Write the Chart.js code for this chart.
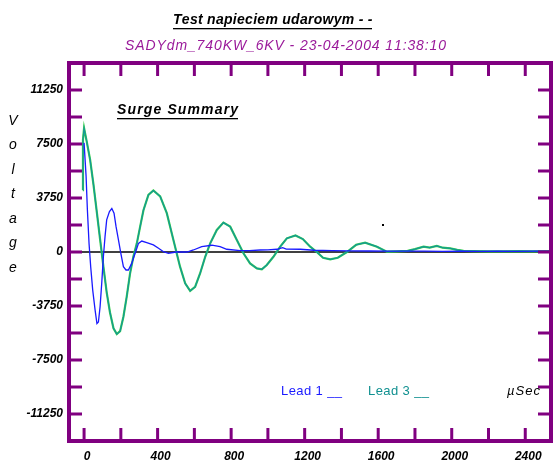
<!DOCTYPE html>
<html>
<head>
<meta charset="utf-8">
<script src="https://cdn.jsdelivr.net/npm/chart.js@4"></script>
<style>
  html, body { margin: 0; padding: 0; background: #fff; }
  #wrap { width: 555px; height: 467px; position: relative; }
</style>
</head>
<body>
<div id="wrap"><canvas id="surge-chart"></canvas></div>
<script>
// surge test — Lead 1 / Lead 3 voltage traces (µs vs V)

const lead1Times = [0, 11, 18, 27, 36, 47, 60, 70, 78, 87, 96, 105, 114, 123, 138, 151, 163, 174, 187, 200, 214, 228, 241, 259, 278, 296, 314, 341, 377, 405, 432, 459, 500, 560, 595, 640, 695, 740, 776, 849, 900, 958, 1000, 1049, 1080, 1100, 1176, 1250, 1350, 1450, 1550, 1650, 1750, 1850, 1950, 2050, 2150, 2250, 2350, 2450, 2540];
const lead1Values = [7580, 5250, 2930, 600, -1020, -2650, -4040, -4970, -4860, -3810, -2180, -330, 1070, 2230, 2810, 3020, 2700, 1760, 840, -90, -1020, -1250, -1250, -790, -90, 600, 760, 650, 490, 260, 20, -90, 0, 0, 140, 380, 470, 380, 190, 90, 100, 140, 150, 190, 300, 200, 190, 120, 90, 80, 70, 60, 60, 60, 40, 60, 40, 60, 50, 60, 50];

const lead3Times = [-7, -6, 0, 14, 33, 51, 69, 87, 105, 123, 141, 160, 178, 196, 214, 232, 250, 268, 287, 305, 323, 350, 377, 414, 450, 486, 522, 550, 577, 604, 631, 659, 686, 722, 758, 795, 831, 867, 903, 940, 967, 994, 1030, 1067, 1103, 1150, 1190, 1230, 1266, 1300, 1339, 1380, 1430, 1480, 1529, 1593, 1647, 1700, 1760, 1800, 1847, 1880, 1919, 1950, 1992, 2030, 2064, 2120, 2200, 2280, 2360, 2440, 2540];
const lead3Values = [4300, 7800, 8600, 7700, 6400, 4700, 2800, 900, -1000, -2800, -4200, -5300, -5700, -5500, -4500, -3100, -1500, -330, 600, 1760, 2900, 3970, 4270, 3860, 2700, 840, -1020, -2180, -2700, -2420, -1490, -330, 600, 1530, 2040, 1760, 840, -90, -790, -1140, -1200, -900, -330, 370, 950, 1150, 900, 370, 0, -400, -510, -400, 0, 500, 650, 370, 20, 50, 80, 200, 370, 300, 420, 300, 250, 150, 80, 60, 50, 40, 60, 40, 60];

const xLabelValues = [0, 400, 800, 1200, 1600, 2000, 2400];
const xTickValues = [0, 200, 400, 600, 800, 1000, 1200, 1400, 1600, 1800, 2000, 2200, 2400];
const yLabelValues = [11250, 7500, 3750, 0, -3750, -7500, -11250];
const yTickValues = [11250, 9375, 7500, 5625, 3750, 1875, 0, -1875, -3750, -5625, -7500, -9375, -11250];

const titleText = 'Test napieciem udarowym - -';
const subtitleText = 'SADYdm_740KW_6KV - 23-04-2004 11:38:10';
const panelText = 'Surge Summary';
const axisTitleLetters = ['V', 'o', 'l', 't', 'a', 'g', 'e'];
const lead1Label = 'Lead 1 __';
const lead3Label = 'Lead 3 __';
const unitText = 'µSec';

const PURPLE = '#800080';
const FONT = '"Liberation Sans", Arial, sans-serif';

function toPoints(xs, ys) {
    return xs.map((x, i) => ({ x, y: ys[i] }));
}

// draws text starting at x, spread out to a given width
function drawSpread(ctx, text, x, y, width, underlineY) {
    const natural = ctx.measureText(text).width;
    const extra = text.length > 1 ? (width - natural) / (text.length - 1) : 0;
    ctx.textAlign = 'left';
    let cx = x;
    for (const ch of text) {
        ctx.fillText(ch, cx, y);
        cx += ctx.measureText(ch).width + extra;
    }
    if (underlineY) {
        ctx.fillRect(x, underlineY, width, 1.3);
    }
}

const surgeDecor = {
    id: 'surgeDecor',
    beforeDatasetsDraw(chart) {
        const { ctx, chartArea: a, scales } = chart;
        const y0 = scales.y.getPixelForValue(0);
        ctx.save();
        ctx.strokeStyle = '#000';
        ctx.lineWidth = 1.5;
        ctx.beginPath();
        ctx.moveTo(a.left, y0);
        ctx.lineTo(a.right, y0);
        ctx.stroke();
        ctx.restore();
    },
    afterDatasetsDraw(chart) {
        const { ctx, chartArea: a, scales } = chart;
        ctx.save();

        // frame + inward ticks
        ctx.strokeStyle = PURPLE;
        ctx.lineWidth = 4;
        ctx.strokeRect(a.left, a.top, a.right - a.left, a.bottom - a.top);
        ctx.lineWidth = 3;
        ctx.beginPath();
        xTickValues.forEach(v => {
            const px = scales.x.getPixelForValue(v);
            ctx.moveTo(px, a.top);
            ctx.lineTo(px, a.top + 13);
            ctx.moveTo(px, a.bottom);
            ctx.lineTo(px, a.bottom - 13);
        });
        yTickValues.forEach(v => {
            const py = scales.y.getPixelForValue(v);
            ctx.moveTo(a.left, py);
            ctx.lineTo(a.left + 13, py);
            ctx.moveTo(a.right, py);
            ctx.lineTo(a.right - 13, py);
        });
        ctx.stroke();

        ctx.textBaseline = 'middle';

        // titles
        ctx.fillStyle = '#000';
        ctx.font = 'bold italic 14px ' + FONT;
        drawSpread(ctx, titleText, 173, 20, 199, 28);
        ctx.fillStyle = '#9a1a9a';
        ctx.font = 'italic 14px ' + FONT;
        drawSpread(ctx, subtitleText, 125, 46, 320);

        // inner caption
        ctx.fillStyle = '#000';
        ctx.font = 'bold italic 14px ' + FONT;
        drawSpread(ctx, panelText, 117, 110, 121, 118);

        // vertical axis title
        ctx.font = 'italic 14px ' + FONT;
        ctx.textAlign = 'center';
        axisTitleLetters.forEach((ch, i) => {
            ctx.fillText(ch, 13, 121 + i * 24.5);
        });

        // legend-ish labels
        ctx.font = '13px ' + FONT;
        ctx.fillStyle = '#1a1aff';
        drawSpread(ctx, lead1Label, 281, 391, 61);
        ctx.fillStyle = '#109090';
        drawSpread(ctx, lead3Label, 368, 391, 61);
        ctx.fillStyle = '#000';
        ctx.font = 'italic 13px ' + FONT;
        drawSpread(ctx, unitText, 507, 391, 33);

        // stray dot
        ctx.fillRect(382, 224, 2, 2);
        ctx.restore();
    }
};

const tickFont = { family: FONT, size: 12, weight: 'bold', style: 'italic' };

// first dataset ends up on top
new Chart(document.getElementById('surge-chart'), {
    type: 'line',
    data: {
        datasets: [
            {
                label: 'Lead 1',
                data: toPoints(lead1Times, lead1Values),
                borderColor: '#1a1aff',
                borderWidth: 1.3,
                pointRadius: 0,
                tension: 0
            },
            {
                label: 'Lead 3 core',
                data: toPoints(lead3Times, lead3Values),
                borderColor: '#12969a',
                borderWidth: 1.2,
                pointRadius: 0,
                tension: 0
            },
            {
                label: 'Lead 3',
                data: toPoints(lead3Times, lead3Values),
                borderColor: '#3ad04a',
                borderWidth: 2.2,
                pointRadius: 0,
                tension: 0
            }
        ]
    },
    options: {
        responsive: true,
        maintainAspectRatio: false,
        animation: false,
        layout: { padding: { top: 63, right: 4, left: 0, bottom: 0 } },
        plugins: {
            legend: { display: false },
            tooltip: { enabled: false }
        },
        scales: {
            x: {
                type: 'linear',
                min: -82,
                max: 2540,
                grid: { display: false, drawTicks: false },
                border: { display: false },
                afterBuildTicks: s => { s.ticks = xLabelValues.map(v => ({ value: v })); },
                afterFit: s => { s.height = 26; },
                ticks: {
                    font: tickFont,
                    color: '#000',
                    padding: 8,
                    labelOffset: 3,
                    maxRotation: 0,
                    autoSkip: false,
                    callback: v => String(v)
                }
            },
            y: {
                min: -13125,
                max: 13125,
                grid: { display: false, drawTicks: false },
                border: { display: false },
                afterBuildTicks: s => { s.ticks = yLabelValues.map(v => ({ value: v })); },
                afterFit: s => { s.width = 69; },
                ticks: {
                    font: tickFont,
                    color: '#000',
                    padding: 6,
                    autoSkip: false,
                    callback: v => String(v)
                }
            }
        }
    },
    plugins: [surgeDecor]
});
</script>
</body>
</html>
